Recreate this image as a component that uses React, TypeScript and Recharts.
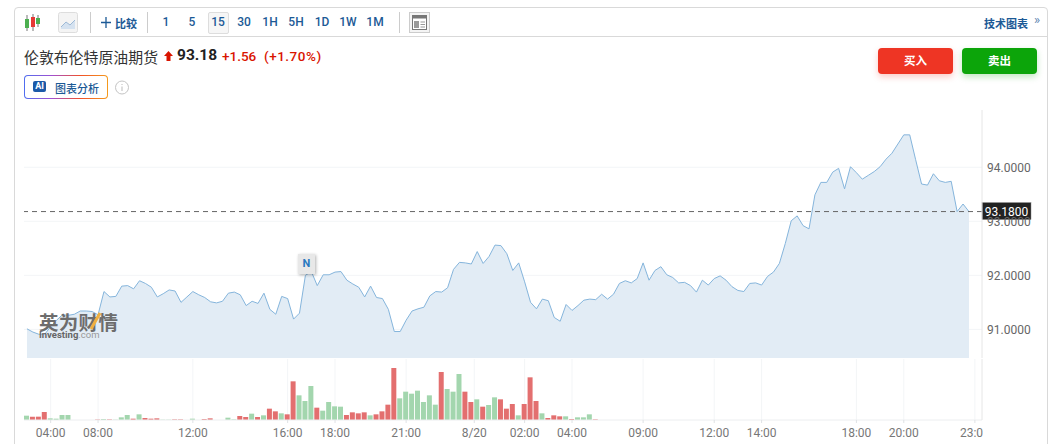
import { ComposedChart, Area, Bar, Cell, XAxis, YAxis, CartesianGrid, ReferenceLine } from 'recharts'

const prices = [
  91.01, 90.95, 90.91, 90.91, 91.05, 91.17, 91.27, 91.26, 91.28, 91.34,
  91.34, 91.33, 91.27, 91.7, 91.6, 91.61, 91.8, 91.81, 91.75, 91.9,
  91.85, 91.78, 91.6, 91.66, 91.73, 91.71, 91.5, 91.6, 91.7, 91.64,
  91.59, 91.51, 91.49, 91.52, 91.67, 91.69, 91.64, 91.44, 91.52, 91.48,
  91.67, 91.37, 91.28, 91.61, 91.57, 91.19, 91.3, 92.0, 92.07, 91.81,
  92.01, 92.01, 92.06, 92.07, 91.91, 91.84, 91.78, 91.6, 91.8, 91.59,
  91.57, 91.37, 90.96, 90.96, 91.17, 91.34, 91.38, 91.41, 91.62, 91.7,
  91.69, 91.77, 92.11, 92.24, 92.23, 92.21, 92.44, 92.22, 92.35, 92.56,
  92.55, 92.4, 92.09, 92.23, 91.88, 91.5, 91.38, 91.56, 91.53, 91.22,
  91.15, 91.46, 91.35, 91.44, 91.54, 91.56, 91.55, 91.65, 91.56, 91.65,
  91.85, 91.9, 91.86, 91.94, 92.23, 91.91, 92.09, 92.16, 92.01, 91.96,
  91.86, 91.87, 91.81, 91.69, 91.91, 91.82, 91.94, 91.99, 91.91, 91.79,
  91.72, 91.7, 91.85, 91.86, 91.82, 91.98, 92.06, 92.22, 92.59, 93.01,
  93.1, 92.92, 92.86, 93.49, 93.72, 93.72, 93.91, 93.98, 93.6, 94.01,
  93.9, 93.78, 93.85, 93.92, 94.01, 94.15, 94.26, 94.43, 94.6, 94.6,
  94.14, 93.69, 93.67, 93.88, 93.75, 93.72, 93.74, 93.18, 93.32, 93.18,
]

const volumes = [
  13, 10, 10, 24, 5, 4, 15, 15, 0, 0,
  0, 0, 1.5, 3, 2, 1, 8, 15, 4, 17,
  6, 4, 5, 1, 1, 2, 2, 0, 4, 0,
  3, 5, 0, 0, 7, 2, 12, 9, 19, 9,
  14, 34, 26, 20, 17, 116, 74, 57, 102, 37,
  28, 54, 41, 40, 15, 23, 20, 23, 14, 17,
  26, 46, 156, 65, 85, 79, 88, 54, 74, 46,
  144, 93, 85, 138, 85, 54, 62, 40, 45, 68,
  62, 34, 48, 14, 48, 128, 57, 20, 6, 14,
  11, 11, 3, 8, 8, 17, 2, 0, 0, 0,
]

const volumeSides = (
  'grrrgggggg' + 'ggrgrgggrg' + 'rrrggrrggg' + 'rrggggrrgr' + 'grrgrrgggr' +
  'ggggrrrrgr' + 'rrrggggggg' + 'rgggrrgrgg' + 'rrrgrrrgrr' + 'rgrgggrggg'
).split('')

const timeTicks = [4, 12, 28, 44, 52, 64, 75.5, 84, 92, 104, 116, 124, 140, 148, 160]
const timeLabels = ['04:00', '08:00', '12:00', '16:00', '18:00', '21:00', '8/20', '02:00', '04:00', '09:00', '12:00', '14:00', '18:00', '20:00', '23:00']
const priceTicks = [91, 92, 93, 94]
const lastPrice = 93.18
const periods = ['1', '5', '15', '30', '1H', '5H', '1D', '1W', '1M']
const periodX = [166, 192, 218, 244, 270, 296, 322, 348, 375]

const priceData = prices.map((price, i) => ({ i, price }))
const volumeData = prices.map((_, i) => ({ i, volume: volumes[i] ?? 0, side: volumeSides[i] ?? 'g' }))

const FONT = 'Roboto, "Noto Sans CJK SC", sans-serif'
const BLUE = '#1c5a96'
const LINE = '#d9d9d9'
const GRID = '#f3f5f7'
const X_DOMAIN: [number, number] = [-0.5, 161.2]

const tickLabel = (v: number) => timeLabels[timeTicks.indexOf(v)] ?? ''

function PriceTag(props: any) {
  const { x, y, width } = props.viewBox
  return (
    <g>
      <rect x={x + width} y={y - 9} width={49} height={17} fill="#222" stroke="#888" strokeWidth={0.5} />
      <text x={x + width + 24.5} y={y + 4} textAnchor="middle" fontSize={12} fontFamily={FONT} fill="#fff">93.1800</text>
    </g>
  )
}

const at = (left: number, top: number): React.CSSProperties => ({ position: 'absolute', left, top, whiteSpace: 'nowrap' })

export default function App() {
  return (
    <div style={{ position: 'fixed', left: 0, top: 0, width: 1053, height: 444, overflow: 'hidden', background: '#fff', fontFamily: FONT }}>

      {/* Frame */}
      <div style={{ position: 'absolute', left: 14, top: 7, width: 1032, height: 460, border: `1px solid ${LINE}`, borderRadius: 4 }} />
      <div style={{ position: 'absolute', left: 15, top: 36, width: 1032, height: 1, background: LINE }} />

      {/* Toolbar */}
      <svg style={at(24, 13)} width={18} height={20}>
        <line x1={3} y1={2} x2={3} y2={18} stroke="#777" />
        <rect x={1} y={6} width={4} height={9} fill="#4caf50" />
        <line x1={9} y1={1} x2={9} y2={18} stroke="#777" />
        <rect x={7} y={4} width={4} height={10} fill="#e53935" />
        <line x1={14} y1={2} x2={14} y2={14} stroke="#777" />
        <rect x={12} y={5} width={4} height={6} fill="#4caf50" />
      </svg>
      <svg style={at(58, 12)} width={21} height={22}>
        <rect x={0.5} y={0.5} width={19} height={20} rx={2} fill="#f4f4f4" stroke="#ddd" />
        <path d="M3 15 L8 10 L12 13 L17 8 L17 17 L3 17 Z" fill="#d5e2f0" />
        <path d="M3 15 L8 10 L12 13 L17 8" fill="none" stroke="#9db9d6" />
      </svg>
      <div style={{ position: 'absolute', left: 90, top: 12, width: 1, height: 21, background: '#ccc' }} />
      <svg style={at(100, 16)} width={12} height={13}>
        <path d="M6 1 V12 M1 6.5 H11" stroke={BLUE} strokeWidth={1.3} />
      </svg>
      <div style={{ ...at(115, 15), fontSize: 11, fontWeight: 700, color: BLUE }}>比较</div>
      <div style={{ position: 'absolute', left: 147, top: 12, width: 1, height: 21, background: '#ccc' }} />
      <div style={{ position: 'absolute', left: 208, top: 12, width: 19, height: 20, background: '#f6f6f6', border: '1px solid #ddd', borderRadius: 2 }} />
      {periods.map((p, i) => (
        <div key={p} style={{ ...at(periodX[i] - 15, 15), width: 30, textAlign: 'center', fontSize: 12, fontWeight: 500, color: BLUE }}>{p}</div>
      ))}
      <div style={{ position: 'absolute', left: 399, top: 12, width: 1, height: 21, background: '#ccc' }} />
      <svg style={at(409, 12)} width={21} height={21}>
        <rect x={0.5} y={0.5} width={20} height={20} fill="#f4f4f4" stroke="#ccc" />
        <rect x={3.5} y={3.5} width={14} height={14} fill="#fff" stroke="#777" />
        <rect x={3.5} y={3.5} width={14} height={3} fill="#777" />
        <rect x={5} y={9} width={5} height={7} fill="#999" />
        <path d="M11.5 10 H16 M11.5 12.5 H16 M11.5 15 H16" stroke="#999" />
      </svg>
      <div style={{ ...at(984, 15), fontSize: 11, fontWeight: 700, color: BLUE }}>技术图表</div>
      <div style={{ ...at(1034, 12), fontSize: 13, color: '#5d86b0' }}>»</div>

      {/* Instrument header */}
      <div style={{ ...at(24, 46), fontSize: 14.9, color: '#333' }}>伦敦布伦特原油期货</div>
      <svg style={at(163, 50)} width={11} height={12}>
        <path d="M5.5 1 L10 6 H7.5 V11 H3.5 V6 H1 Z" fill="#d91400" />
      </svg>
      <div style={{ ...at(177, 46), fontSize: 15.5, fontWeight: 700, color: '#222' }}>93.18</div>
      <div style={{ ...at(222, 48), fontSize: 13.5, fontWeight: 500, color: '#d91400' }}>+1.56</div>
      <div style={{ ...at(264, 48), fontSize: 13.5, fontWeight: 500, letterSpacing: 0.5, color: '#d91400' }}>(+1.70%)</div>

      <div style={{ position: 'absolute', left: 878, top: 48, width: 75, height: 26, lineHeight: '26px', background: '#ee3524', borderRadius: 4, color: '#fff', textAlign: 'center', fontSize: 11.5, fontWeight: 700, boxShadow: '0 3px 6px rgba(238,53,36,.25)' }}>买入</div>
      <div style={{ position: 'absolute', left: 962, top: 48, width: 75, height: 26, lineHeight: '26px', background: '#0ca50a', borderRadius: 4, color: '#fff', textAlign: 'center', fontSize: 11.5, fontWeight: 700, boxShadow: '0 3px 6px rgba(12,165,10,.25)' }}>卖出</div>

      {/* AI button */}
      <div style={{ position: 'absolute', left: 24, top: 75, width: 84, height: 24, borderRadius: 4, padding: 1, boxSizing: 'border-box', background: 'linear-gradient(90deg,#4f6ef0,#a050d0,#f0502a,#f59a1c)' }}>
        <div style={{ width: '100%', height: '100%', borderRadius: 3, background: '#fff' }} />
      </div>
      <div style={{ position: 'absolute', left: 33, top: 81, width: 13, height: 11, lineHeight: '11px', background: '#1c5aa8', borderRadius: 2, color: '#fff', fontSize: 9, fontWeight: 700, textAlign: 'center' }}>AI</div>
      <div style={{ ...at(55, 80), fontSize: 11, fontWeight: 500, color: BLUE }}>图表分析</div>
      <svg style={at(114, 80)} width={16} height={15}>
        <circle cx={8} cy={7.5} r={6.5} fill="none" stroke="#c4c4c4" />
        <path d="M8 6.5 V11 M8 4 V5" stroke="#bbb" />
      </svg>

      {/* Price pane */}
      <div style={{ position: 'absolute', left: 0, top: 0 }}>
        <ComposedChart width={1053} height={444} data={priceData} margin={{ top: 110, right: 0, bottom: 86, left: 24 }}>
          <CartesianGrid stroke={GRID} syncWithTicks />
          <XAxis dataKey="i" type="number" domain={X_DOMAIN} ticks={timeTicks} interval={0} height={0} tick={false} tickLine={false} axisLine={{ stroke: '#e3e6ea', strokeWidth: 2 }} />
          <YAxis orientation="right" width={71} domain={[90.47, 95.06]} ticks={priceTicks} interval={0} tickFormatter={(v: number) => v.toFixed(4)} tickSize={0} tickMargin={5} axisLine={{ stroke: '#e6e6e6' }} tick={{ fontSize: 12, fill: '#666', fontFamily: FONT }} />
          <Area type="linear" dataKey="price" stroke="#85b5dc" strokeWidth={1} fill="#e2ecf5" fillOpacity={1} dot={false} activeDot={false} isAnimationActive={false} />
          <ReferenceLine y={lastPrice} stroke="#666" strokeDasharray="5 4" label={<PriceTag />} />
        </ComposedChart>
      </div>

      {/* Volume pane */}
      <div style={{ position: 'absolute', left: 0, top: 0 }}>
        <ComposedChart width={1053} height={444} data={volumeData} margin={{ top: 359, right: 0, bottom: 0, left: 24 }}>
          <CartesianGrid stroke={GRID} horizontal={false} syncWithTicks />
          <XAxis dataKey="i" type="number" domain={X_DOMAIN} ticks={timeTicks} interval={0} height={24} tickFormatter={tickLabel} tickSize={3} tickMargin={5} axisLine={{ stroke: '#eceef0' }} tickLine={{ stroke: '#dfe2e5' }} tick={{ fontSize: 12, fill: '#777', fontFamily: FONT }} />
          <YAxis orientation="right" width={71} domain={[0, 183]} tick={false} tickLine={false} axisLine={{ stroke: '#e6e6e6' }} />
          <Bar dataKey="volume" barSize={5} isAnimationActive={false}>
            {volumeData.map(d => (
              <Cell key={d.i} fill={d.side === 'r' ? '#e36f6f' : '#a3d6ae'} />
            ))}
          </Bar>
        </ComposedChart>
      </div>

      {/* 23:00 is cut off by the axis edge */}
      <div style={{ position: 'absolute', left: 983, top: 423, width: 30, height: 19, background: '#fff' }} />

      {/* News marker */}
      <div style={{ position: 'absolute', left: 298, top: 254, width: 17, height: 20, lineHeight: '20px', background: '#e8e8e8', boxShadow: '1px 1px 3px rgba(0,0,0,.3)', color: '#2a78c0', fontSize: 11, fontWeight: 700, textAlign: 'center' }}>N</div>

      {/* Watermark */}
      <div style={{ ...at(39, 307), fontSize: 19.5, fontWeight: 700, color: '#6d6d6d', letterSpacing: 0.3 }}>英为财情</div>
      <svg style={at(88, 311)} width={14} height={20}>
        <path d="M3 18 L12 2" stroke="#f0b040" strokeWidth={3} />
      </svg>
      <div style={{ ...at(39, 329), fontSize: 9.5, fontWeight: 700, color: '#666' }}>Investing<span style={{ color: '#999', fontWeight: 400 }}>.com</span></div>
    </div>
  )
}
